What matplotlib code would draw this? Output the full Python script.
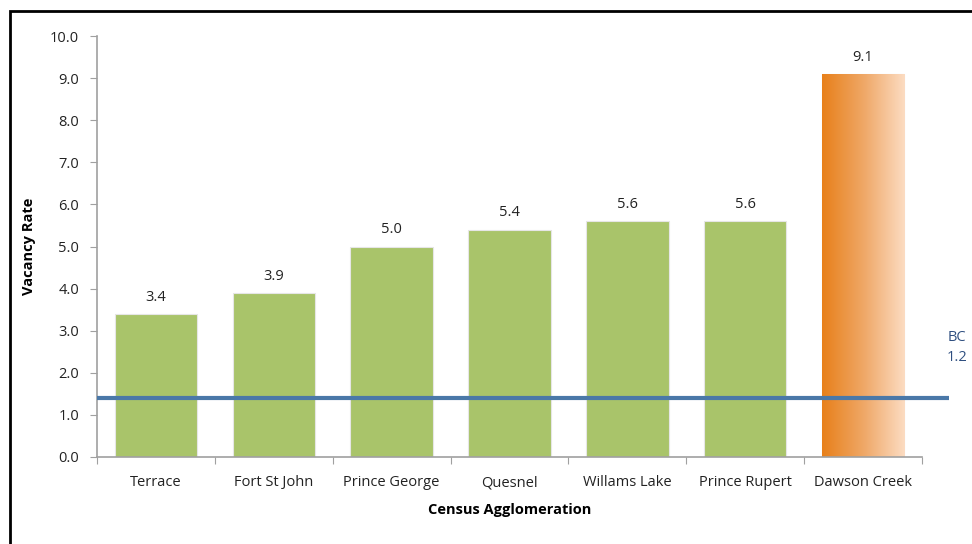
import matplotlib
matplotlib.use("Agg")
import matplotlib.pyplot as plt
import numpy as np
from matplotlib.patches import Rectangle
from matplotlib.colors import LinearSegmentedColormap

categories = ["Terrace", "Fort St John", "Prince George", "Quesnel",
              "Willams Lake", "Prince Rupert", "Dawson Creek"]
values = [3.4, 3.9, 5.0, 5.4, 5.6, 5.6, 9.1]
bc_line_value = 1.4
bc_label = "BC\n1.2"
yticks = [0, 1, 2, 3, 4, 5, 6, 7, 8, 9, 10]

plt.rcParams['font.family'] = ['Open Sans', 'DejaVu Sans']
fig = plt.figure(figsize=(9.72, 5.44), dpi=100)
ax = fig.add_axes([97/972, 1-457/544, (922-97)/972, (457-36)/544])

green = "#a9c46a"
x = np.arange(len(categories))
colors = [green]*(len(values)-1) + ["none"]
bars = ax.bar(x, values, width=0.70, color=colors, edgecolor="#e6e6e6", linewidth=0.8, zorder=2)

# gradient for last bar
cmap = LinearSegmentedColormap.from_list("og", ["#e8801a", "#efa766", "#fcdcc2"])
last = bars[-1]
bx, by = last.get_x(), last.get_y()
bw, bh = last.get_width(), last.get_height()
grad = np.linspace(0, 1, 256).reshape(1, -1)
im = ax.imshow(grad, cmap=cmap, aspect="auto", extent=[bx, bx+bw, by, by+bh], zorder=2)
im.set_clip_path(last)

for b, v in zip(bars, values):
    ax.text(b.get_x()+b.get_width()/2, v+0.22, f"{v:.1f}", ha="center", va="bottom",
            fontsize=10.5, color="#222222")

ax.set_xlim(-0.5, len(categories)-0.5)
ax.set_ylim(0, 10)
ax.set_yticks(yticks)
ax.set_yticklabels([f"{t:.1f}" for t in yticks])
ax.set_xticks(np.arange(len(categories)+1)-0.5, minor=False)
ax.set_xticklabels([])
ax.set_xticks(x, minor=True)
ax.set_xticklabels(categories, minor=True)
ax.tick_params(axis="x", which="minor", length=0, pad=13, labelsize=10.5, labelcolor="#222222")
ax.tick_params(axis="x", which="major", length=5, color="#a0a0a0")
ax.tick_params(axis="y", length=5, color="#a0a0a0", labelsize=10.5, labelcolor="#222222", pad=8)

for s in ["top", "right"]:
    ax.spines[s].set_visible(False)
for s in ["left", "bottom"]:
    ax.spines[s].set_color("#a0a0a0")
    ax.spines[s].set_linewidth(1.2)

ax.set_ylabel("Vacancy Rate", fontsize=10.5, fontweight="bold", labelpad=10)
ax.set_xlabel("Census Agglomeration", fontsize=10.5, fontweight="bold", labelpad=9)

# BC line extending past the axis
ax.plot([-0.5, 6.73], [bc_line_value, bc_line_value], color="#4a78a8", linewidth=3,
        clip_on=False, zorder=3, solid_capstyle="butt")
ax.text(6.80, bc_line_value+0.78, bc_label, ha="center", va="bottom", fontsize=10.5,
        color="#2f4f80", linespacing=1.45, clip_on=False)

# outer frame
fig.patches.append(Rectangle((10/972, -0.1), 1.2, (544-11)/544 + 0.1, transform=fig.transFigure,
                             fill=False, edgecolor="black", linewidth=2))

fig.savefig("out.png", dpi=100)
